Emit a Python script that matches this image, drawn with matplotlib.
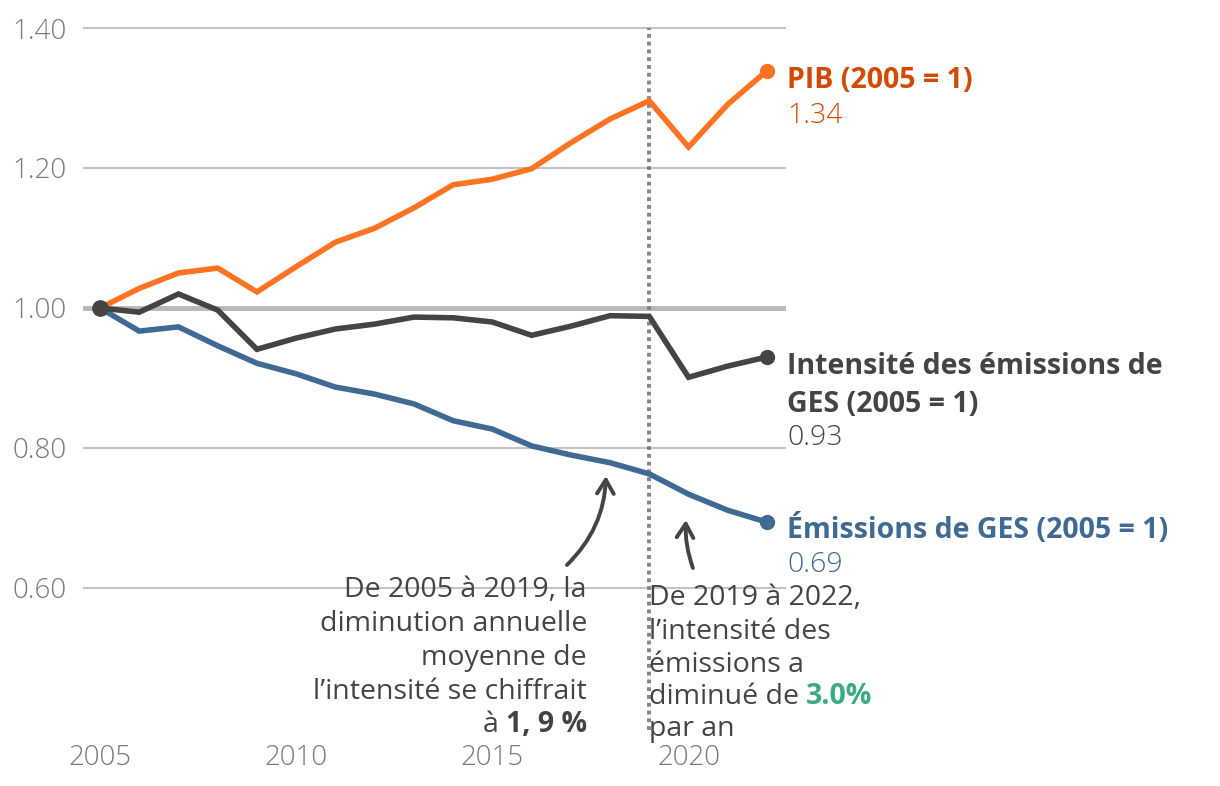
import matplotlib
matplotlib.use("Agg")
import matplotlib.pyplot as plt

plt.rcParams['font.family'] = ['Open Sans', 'DejaVu Sans']

years = list(range(2005, 2023))
pib = [1.000, 1.028, 1.050, 1.057, 1.023, 1.059, 1.094, 1.114, 1.143, 1.176,
       1.184, 1.199, 1.236, 1.270, 1.296, 1.230, 1.291, 1.339]
intensite = [1.000, 0.994, 1.020, 0.997, 0.941, 0.957, 0.970, 0.977, 0.987, 0.986,
             0.980, 0.961, 0.974, 0.989, 0.988, 0.901, 0.917, 0.930]
emissions = [1.000, 0.967, 0.973, 0.946, 0.921, 0.906, 0.887, 0.877, 0.863, 0.839,
             0.827, 0.803, 0.790, 0.779, 0.763, 0.734, 0.711, 0.694]
yticks = [0.60, 0.80, 1.00, 1.20, 1.40]
ytick_labels = ["0.60", "0.80", "1.00", "1.20", "1.40"]
xticks = [2005, 2010, 2015, 2020]
xtick_labels = ["2005", "2010", "2015", "2020"]

C_PIB = "#FF7322"
C_PIB_TXT = "#D24A00"
C_INT = "#444444"
C_EMI = "#3F6A94"
C_GREEN = "#3BAA85"
C_TICK = "#7a7a7a"
FS = 20.5
FS_TICK = 20

fig = plt.figure(figsize=(12.2, 7.86), dpi=100)
ax = fig.add_axes([83/1220, 1-730/786, (786-83)/1220, (730-20)/786])
ax.set_xlim(2005 - 17/39.24, 2022 + 19/39.24)
ax.set_ylim(0.60 - 142/700, 1.40 + 8/700)
for s in ax.spines.values():
    s.set_visible(False)

for y in yticks:
    if y == 1.0:
        ax.axhline(y, color="#b8b8b8", lw=3.5, zorder=1)
    else:
        ax.axhline(y, color="#c4c4c4", lw=1.5, zorder=1)

ax.set_yticks(yticks)
ax.set_yticklabels(ytick_labels)
ax.set_xticks(xticks)
ax.set_xticklabels(xtick_labels)
ax.tick_params(axis='both', length=0, labelsize=FS_TICK, labelcolor=C_TICK)
ax.tick_params(axis='y', pad=12)
ax.tick_params(axis='x', pad=10)
for lab in ax.get_xticklabels() + ax.get_yticklabels():
    lab.set_fontweight('light')

ax.axvline(2019, ymin=0, ymax=(1.40 - ax.get_ylim()[0]) / (ax.get_ylim()[1] - ax.get_ylim()[0]),
           color="#858585", lw=2.8, ls=(0, (1, 1)), zorder=2)

ax.plot(years, pib, color=C_PIB, lw=4, zorder=3, solid_joinstyle='miter')
ax.plot(years, emissions, color=C_EMI, lw=4, zorder=3, solid_joinstyle='miter')
ax.plot(years, intensite, color=C_INT, lw=4, zorder=4, solid_joinstyle='miter')

ax.plot(years[-1], pib[-1], 'o', color=C_PIB, ms=10, zorder=5)
ax.plot(years[-1], intensite[-1], 'o', color=C_INT, ms=10, zorder=5)
ax.plot(years[-1], emissions[-1], 'o', color=C_EMI, ms=10, zorder=5)
ax.plot(years[0], intensite[0], 'o', color=C_INT, ms=11, zorder=6)

# End labels
lx = 2022 + 20/39.24
def py(p):
    return 1.0 - (p - 308) / 700.0

ax.text(lx, py(80), "PIB (2005 = 1)", color=C_PIB_TXT, fontsize=FS, fontweight='bold', va='center', ha='left', clip_on=False)
ax.text(lx, py(116), f"{pib[-1]:.2f}", color=C_PIB_TXT, fontsize=FS, fontweight='light', va='center', ha='left', clip_on=False)
ax.text(lx, py(366), "Intensité des émissions de", color=C_INT, fontsize=FS, fontweight='bold', va='center', ha='left', clip_on=False)
ax.text(lx, py(404), "GES (2005 = 1)", color=C_INT, fontsize=FS, fontweight='bold', va='center', ha='left', clip_on=False)
ax.text(lx, py(438), f"{intensite[-1]:.2f}", color=C_INT, fontsize=FS, fontweight='light', va='center', ha='left', clip_on=False)
ax.text(lx, py(530), "Émissions de GES (2005 = 1)", color=C_EMI, fontsize=FS, fontweight='bold', va='center', ha='left', clip_on=False)
ax.text(lx, py(565), f"{emissions[-1]:.2f}", color=C_EMI, fontsize=FS, fontweight='light', va='center', ha='left', clip_on=False)

# Left annotation (right-aligned)
rx = 2005 + (587 - 100) / 39.24
left_lines = ["De 2005 à 2019, la", "diminution annuelle", "moyenne de", "l’intensité se chiffrait"]
ys = [590, 624, 658, 692]
for t, yy in zip(left_lines, ys):
    ax.text(rx, py(yy), t, color=C_INT, fontsize=FS, ha='right', va='center', zorder=7)
b = ax.text(rx, py(725), "1, 9 %", color=C_INT, fontsize=FS, fontweight='bold', ha='right', va='center', zorder=7)
ax.annotate("à ", xy=(0, 0), xycoords=b, color=C_INT, fontsize=FS, ha='right', va='bottom', zorder=7)

# Right annotation (left-aligned)
qx = 2005 + (649 - 100) / 39.24
right_lines = ["De 2019 à 2022,", "l’intensité des", "émissions a"]
ys2 = [598, 632, 665]
for t, yy in zip(right_lines, ys2):
    ax.text(qx, py(yy), t, color=C_INT, fontsize=FS, ha='left', va='center', zorder=7)
d = ax.text(qx, py(697), "diminué de ", color=C_INT, fontsize=FS, ha='left', va='center', zorder=7)
ax.annotate("3.0%", xy=(1, 0), xycoords=d, color=C_GREEN, fontsize=FS, fontweight='bold', ha='left', va='bottom', zorder=7)
ax.text(qx, py(729), "par an", color=C_INT, fontsize=FS, ha='left', va='center', zorder=7, clip_on=False)

# Arrows
def px(p):
    return 2005 + (p - 100) / 39.24
ax.annotate("", xy=(px(606), py(476)), xytext=(px(567), py(565)),
            arrowprops=dict(arrowstyle="->,head_length=1.0,head_width=0.6", color=C_INT, lw=2.8,
                            connectionstyle="arc3,rad=0.2", shrinkA=0, shrinkB=0))
ax.annotate("", xy=(px(686), py(520)), xytext=(px(693), py(568)),
            arrowprops=dict(arrowstyle="->,head_length=1.0,head_width=0.6", color=C_INT, lw=2.8,
                            connectionstyle="arc3,rad=-0.1", shrinkA=0, shrinkB=0))

fig.savefig("out.png", dpi=100)
